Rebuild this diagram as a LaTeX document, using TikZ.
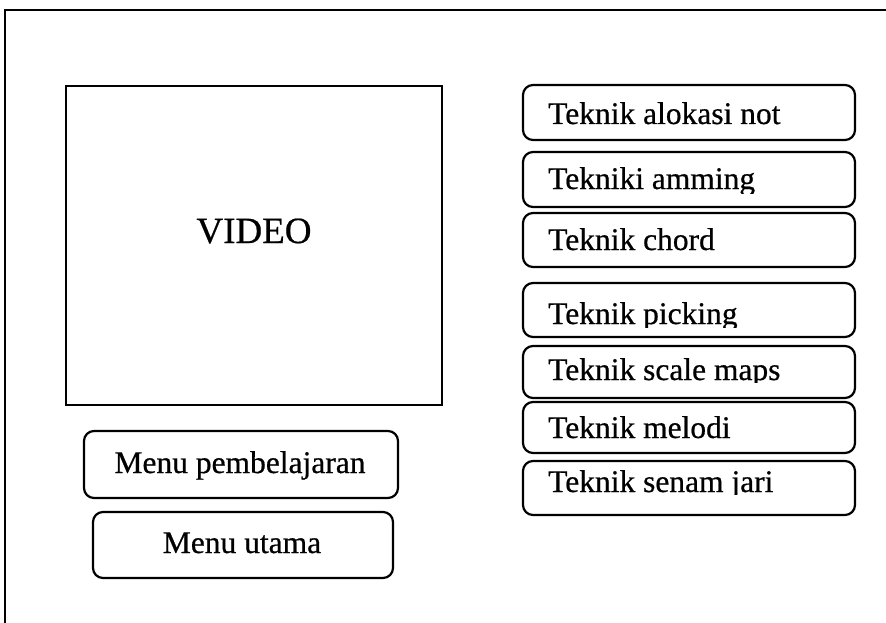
\documentclass[tikz,border=0pt]{standalone}
\usepackage{fontspec}
\setmainfont{Liberation Serif}[FakeBold=0.6]
\begin{document}
\begin{tikzpicture}[x=1pt,y=-1pt,
  frameline/.style={line width=2.4pt},
  panel/.style={draw,line width=2.2pt,inner sep=0pt,outer sep=0pt},
  btn/.style={draw,line width=2.2pt,rounded corners=10pt,inner sep=0pt,outer sep=0pt},
  item/.style={btn,minimum width=332pt},
  lbl/.style={inner sep=0pt,font=\fontsize{31.5}{36}\selectfont},
  biglbl/.style={inner sep=0pt,font=\fontsize{37}{42}\selectfont},
]
\useasboundingbox (0,0) rectangle (886,623);

% page frame: only the top and left edges are visible
\coordinate (fR) at (890,10);
\coordinate (fL) at (5,10);
\coordinate (fB) at (5,630);
\draw[frameline] (fR) -- (fL) -- (fB);

% video panel
\node[panel,minimum width=376pt,minimum height=319pt] (video) at (254,245.5) {};
\node[biglbl,anchor=base] (videoT) at (254,243) {VIDEO};

% menu buttons
\node[btn,minimum width=314pt,minimum height=67pt] (mpb) at (241,464.5) {};
\node[lbl,anchor=base] (mpbT) at (240,473) {Menu pembelajaran};
\node[btn,minimum width=300pt,minimum height=66pt] (mut) at (243,545) {};
\node[lbl,anchor=base] (mutT) at (242,553) {Menu utama};

% technique list
\node[item,minimum height=55pt] (t1) at (689,112.5) {};
\node[lbl,anchor=base west] (t1T) at (548,124) {Teknik alokasi not};

\node[item,minimum height=55pt] (t2) at (689,179.5) {};
\begin{scope}
  \clip (530,155) rectangle (850,193);
  \node[lbl,anchor=base west] (t2T) at (548,189) {Tekniki amming};
\end{scope}

\node[item,minimum height=54pt] (t3) at (689,240) {};
\node[lbl,anchor=base west] (t3T) at (548,250) {Teknik chord};

\node[item,minimum height=54pt] (t4) at (689,310) {};
\begin{scope}
  \clip (530,286) rectangle (850,327);
  \node[lbl,anchor=base west] (t4T) at (548,324) {Teknik picking};
\end{scope}

\node[item,minimum height=52pt] (t5) at (689,372) {};
\begin{scope}
  \clip (530,349) rectangle (850,382);
  \node[lbl,anchor=base west] (t5T) at (548,380) {Teknik scale maps};
\end{scope}

\node[item,minimum height=51pt] (t6) at (689,427.5) {};
\node[lbl,anchor=base west] (t6T) at (548,438) {Teknik melodi};

\node[item,minimum height=54pt] (t7) at (689,488) {};
\begin{scope}
  \clip (530,464) rectangle (850,494);
  \node[lbl,anchor=base west] (t7T) at (548,492) {Teknik senam jari};
\end{scope}
\end{tikzpicture}
\end{document}
